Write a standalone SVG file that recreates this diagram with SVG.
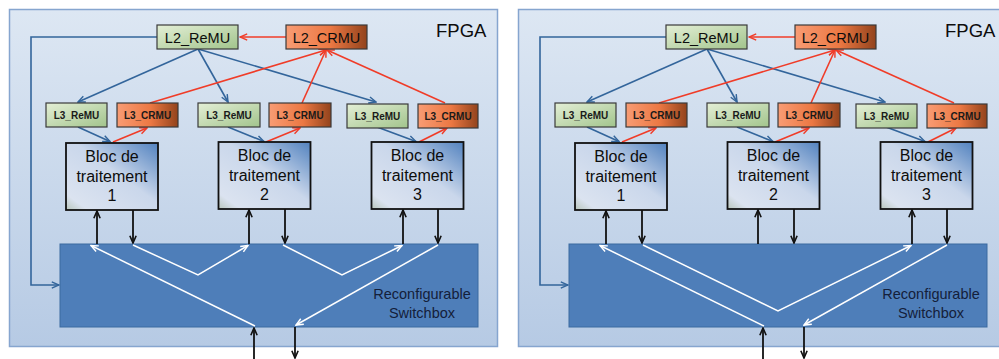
<svg xmlns="http://www.w3.org/2000/svg" width="999" height="359" viewBox="0 0 999 359">
<defs>
<linearGradient id="gPanel" x1="0" y1="0" x2="0" y2="1"><stop offset="0" stop-color="#dde7f3"/><stop offset="1" stop-color="#b6cae4"/></linearGradient>
<linearGradient id="gGreen" x1="0" y1="0" x2="1" y2="1"><stop offset="0" stop-color="#e4efd6"/><stop offset="1" stop-color="#a2c48c"/></linearGradient>
<linearGradient id="gOrange" x1="0" y1="0" x2="1" y2="0"><stop offset="0" stop-color="#f89c74"/><stop offset="0.55" stop-color="#ec7843"/><stop offset="1" stop-color="#92431c"/></linearGradient>
<linearGradient id="gBloc" x1="0" y1="1" x2="1" y2="0"><stop offset="0" stop-color="#b9c6bc"/><stop offset="0.12" stop-color="#dbe3f0"/><stop offset="0.55" stop-color="#cad7eb"/><stop offset="1" stop-color="#5282bf"/></linearGradient>
<marker id="mBlue" viewBox="0 0 10 10" refX="9" refY="5" markerWidth="9" markerHeight="9" orient="auto" markerUnits="userSpaceOnUse"><path d="M1,1.5 L9,5 L1,8.5" fill="none" stroke="#33659b" stroke-width="1.6"/></marker>
<marker id="mRed" viewBox="0 0 10 10" refX="9" refY="5" markerWidth="9" markerHeight="9" orient="auto" markerUnits="userSpaceOnUse"><path d="M1,1.5 L9,5 L1,8.5" fill="none" stroke="#f03c28" stroke-width="1.6"/></marker>
<marker id="mBlack" viewBox="0 0 10 10" refX="9" refY="5" markerWidth="9" markerHeight="9" orient="auto" markerUnits="userSpaceOnUse"><path d="M1,1.5 L9,5 L1,8.5" fill="none" stroke="#111" stroke-width="1.8"/></marker>
<marker id="mWhite" viewBox="0 0 10 10" refX="9" refY="5" markerWidth="9" markerHeight="9" orient="auto" markerUnits="userSpaceOnUse"><path d="M1,1.5 L9,5 L1,8.5" fill="none" stroke="#ffffff" stroke-width="1.6"/></marker>
</defs>
<style>
text{font-family:"Liberation Sans",Arial,sans-serif;fill:#0d0d0d;}
.panel{fill:url(#gPanel);stroke:#86a5cf;stroke-width:1.5;}
.sw{fill:#4e7eb9;stroke:#3b6aa0;stroke-width:1;}
.green{fill:url(#gGreen);stroke:#3a3a3a;stroke-width:1.2;}
.orange{fill:url(#gOrange);stroke:#3a3a3a;stroke-width:1.2;}
.bloc{fill:url(#gBloc);stroke:#111;stroke-width:1.8;}
.l2{font-size:14.5px;text-anchor:middle;}
.l3{font-size:10px;font-weight:bold;text-anchor:middle;fill:#1a1a1a;}
.bt{font-size:16px;text-anchor:middle;}
.swt{font-size:14.5px;text-anchor:middle;fill:#14203a;}
.fpga{font-size:18.5px;}
.blue{fill:none;stroke:#33659b;stroke-width:1.6;marker-end:url(#mBlue);}
.red{fill:none;stroke:#f03c28;stroke-width:1.6;marker-end:url(#mRed);}
.blk{fill:none;stroke:#111;stroke-width:1.8;marker-end:url(#mBlack);}
.wht{fill:none;stroke:#ffffff;stroke-width:1.5;marker-end:url(#mWhite);}
</style>

<!-- LEFT PANEL -->
<g id="panel-left">
<rect class="panel" x="9.5" y="9.5" width="488" height="337"/>
<text class="fpga" x="436" y="37">FPGA</text>
<g id="switchbox-left"><rect class="sw" x="60" y="244" width="418" height="83"/>
<text class="swt" x="422" y="299">Reconfigurable</text><text class="swt" x="422" y="318">Switchbox</text></g>
<g id="connectors-left">
<path class="red" d="M286,37 H240"/>
<path class="blue" d="M157,37 H31 V285 H59"/>
<path class="blue" d="M198,49 L78,102"/>
<path class="blue" d="M198,49 L228,102"/>
<path class="blue" d="M198,49 L376,102"/>
<path class="red" d="M150,103 L326,50"/>
<path class="red" d="M302,103 L326,50"/>
<path class="red" d="M445,103 L327,50"/>
<path class="blue" d="M78,127 L110,141.5"/>
<path class="red" d="M113,142 L147,128"/>
<path class="blue" d="M228,127 L264,141.5"/>
<path class="red" d="M266,142 L300,128"/>
<path class="blue" d="M377,127 L416,141.5"/>
<path class="red" d="M419,142 L447,128"/>
<path class="blk" d="M97,244 V211"/>
<path class="blk" d="M133,210 V243"/>
<path class="blk" d="M249,244 V210"/>
<path class="blk" d="M285,209 V243"/>
<path class="blk" d="M403,244 V210"/>
<path class="blk" d="M438,209 V243"/>
<path class="blk" d="M254,359 V328"/>
<path class="blk" d="M295,327 V358"/>
<path class="wht" d="M255,326 L91,245.5"/>
<path class="wht" d="M133,245 L198,275 L248,245.5"/>
<path class="wht" d="M283,245 L342,275 L402,245.5"/>
<path class="wht" d="M438,245 L296,325"/>
</g>
<g id="L2_ReMU-left"><rect class="green" x="157" y="25" width="81" height="24"/><text class="l2" x="197.5" y="42.5">L2_ReMU</text></g>
<g id="L2_CRMU-left"><rect class="orange" x="286" y="25" width="81" height="24"/><text class="l2" x="326.5" y="42.5">L2_CRMU</text></g>
<g id="L3_ReMU1-left"><rect class="green" x="46" y="103" width="61" height="24"/><text class="l3" x="76.5" y="119">L3_ReMU</text></g>
<g id="L3_CRMU1-left"><rect class="orange" x="117" y="103" width="61" height="24"/><text class="l3" x="147.5" y="119">L3_CRMU</text></g>
<g id="L3_ReMU2-left"><rect class="green" x="198" y="103" width="62" height="24"/><text class="l3" x="229" y="119">L3_ReMU</text></g>
<g id="L3_CRMU2-left"><rect class="orange" x="269" y="103" width="62" height="24"/><text class="l3" x="300" y="119">L3_CRMU</text></g>
<g id="L3_ReMU3-left"><rect class="green" x="347" y="104" width="61" height="24"/><text class="l3" x="377.5" y="120">L3_ReMU</text></g>
<g id="L3_CRMU3-left"><rect class="orange" x="418" y="104" width="60" height="24"/><text class="l3" x="448" y="120">L3_CRMU</text></g>
<g id="bloc1-left"><rect class="bloc" x="66" y="143" width="92" height="67"/><text class="bt" x="112" y="162">Bloc de</text><text class="bt" x="112" y="182">traitement</text><text class="bt" x="112" y="201">1</text></g>
<g id="bloc2-left"><rect class="bloc" x="218.5" y="142" width="92" height="67"/><text class="bt" x="264.5" y="161">Bloc de</text><text class="bt" x="264.5" y="181">traitement</text><text class="bt" x="264.5" y="200">2</text></g>
<g id="bloc3-left"><rect class="bloc" x="371.5" y="142" width="92" height="67"/><text class="bt" x="417.5" y="161">Bloc de</text><text class="bt" x="417.5" y="181">traitement</text><text class="bt" x="417.5" y="200">3</text></g>
</g>

<!-- RIGHT PANEL -->
<g id="panel-right" transform="translate(509,0)">
<rect class="panel" x="9.5" y="9.5" width="488" height="337"/>
<text class="fpga" x="436" y="37">FPGA</text>
<g id="switchbox-right"><rect class="sw" x="60" y="244" width="418" height="83"/>
<text class="swt" x="422" y="299">Reconfigurable</text><text class="swt" x="422" y="318">Switchbox</text></g>
<g id="connectors-right">
<path class="red" d="M286,37 H240"/>
<path class="blue" d="M157,37 H31 V285 H59"/>
<path class="blue" d="M198,49 L78,102"/>
<path class="blue" d="M198,49 L228,102"/>
<path class="blue" d="M198,49 L376,102"/>
<path class="red" d="M150,103 L326,50"/>
<path class="red" d="M302,103 L326,50"/>
<path class="red" d="M445,103 L327,50"/>
<path class="blue" d="M78,127 L110,141.5"/>
<path class="red" d="M113,142 L147,128"/>
<path class="blue" d="M228,127 L264,141.5"/>
<path class="red" d="M266,142 L300,128"/>
<path class="blue" d="M377,127 L416,141.5"/>
<path class="red" d="M419,142 L447,128"/>
<path class="blk" d="M97,244 V211"/>
<path class="blk" d="M133,210 V243"/>
<path class="blk" d="M249,244 V210"/>
<path class="blk" d="M285,209 V243"/>
<path class="blk" d="M403,244 V210"/>
<path class="blk" d="M438,209 V243"/>
<path class="blk" d="M254,359 V328"/>
<path class="blk" d="M295,327 V358"/>
<path class="wht" d="M255,326 L91,245.5"/>
<path class="wht" d="M134,245 L269,311 L402,245.5"/>
<path class="wht" d="M438,245 L295,325"/>
</g>
<g id="L2_ReMU-right"><rect class="green" x="157" y="25" width="81" height="24"/><text class="l2" x="197.5" y="42.5">L2_ReMU</text></g>
<g id="L2_CRMU-right"><rect class="orange" x="286" y="25" width="81" height="24"/><text class="l2" x="326.5" y="42.5">L2_CRMU</text></g>
<g id="L3_ReMU1-right"><rect class="green" x="46" y="103" width="61" height="24"/><text class="l3" x="76.5" y="119">L3_ReMU</text></g>
<g id="L3_CRMU1-right"><rect class="orange" x="117" y="103" width="61" height="24"/><text class="l3" x="147.5" y="119">L3_CRMU</text></g>
<g id="L3_ReMU2-right"><rect class="green" x="198" y="103" width="62" height="24"/><text class="l3" x="229" y="119">L3_ReMU</text></g>
<g id="L3_CRMU2-right"><rect class="orange" x="269" y="103" width="62" height="24"/><text class="l3" x="300" y="119">L3_CRMU</text></g>
<g id="L3_ReMU3-right"><rect class="green" x="347" y="104" width="61" height="24"/><text class="l3" x="377.5" y="120">L3_ReMU</text></g>
<g id="L3_CRMU3-right"><rect class="orange" x="418" y="104" width="60" height="24"/><text class="l3" x="448" y="120">L3_CRMU</text></g>
<g id="bloc1-right"><rect class="bloc" x="66" y="143" width="92" height="67"/><text class="bt" x="112" y="162">Bloc de</text><text class="bt" x="112" y="182">traitement</text><text class="bt" x="112" y="201">1</text></g>
<g id="bloc2-right"><rect class="bloc" x="218.5" y="142" width="92" height="67"/><text class="bt" x="264.5" y="161">Bloc de</text><text class="bt" x="264.5" y="181">traitement</text><text class="bt" x="264.5" y="200">2</text></g>
<g id="bloc3-right"><rect class="bloc" x="371.5" y="142" width="92" height="67"/><text class="bt" x="417.5" y="161">Bloc de</text><text class="bt" x="417.5" y="181">traitement</text><text class="bt" x="417.5" y="200">3</text></g>
</g>
</svg>
